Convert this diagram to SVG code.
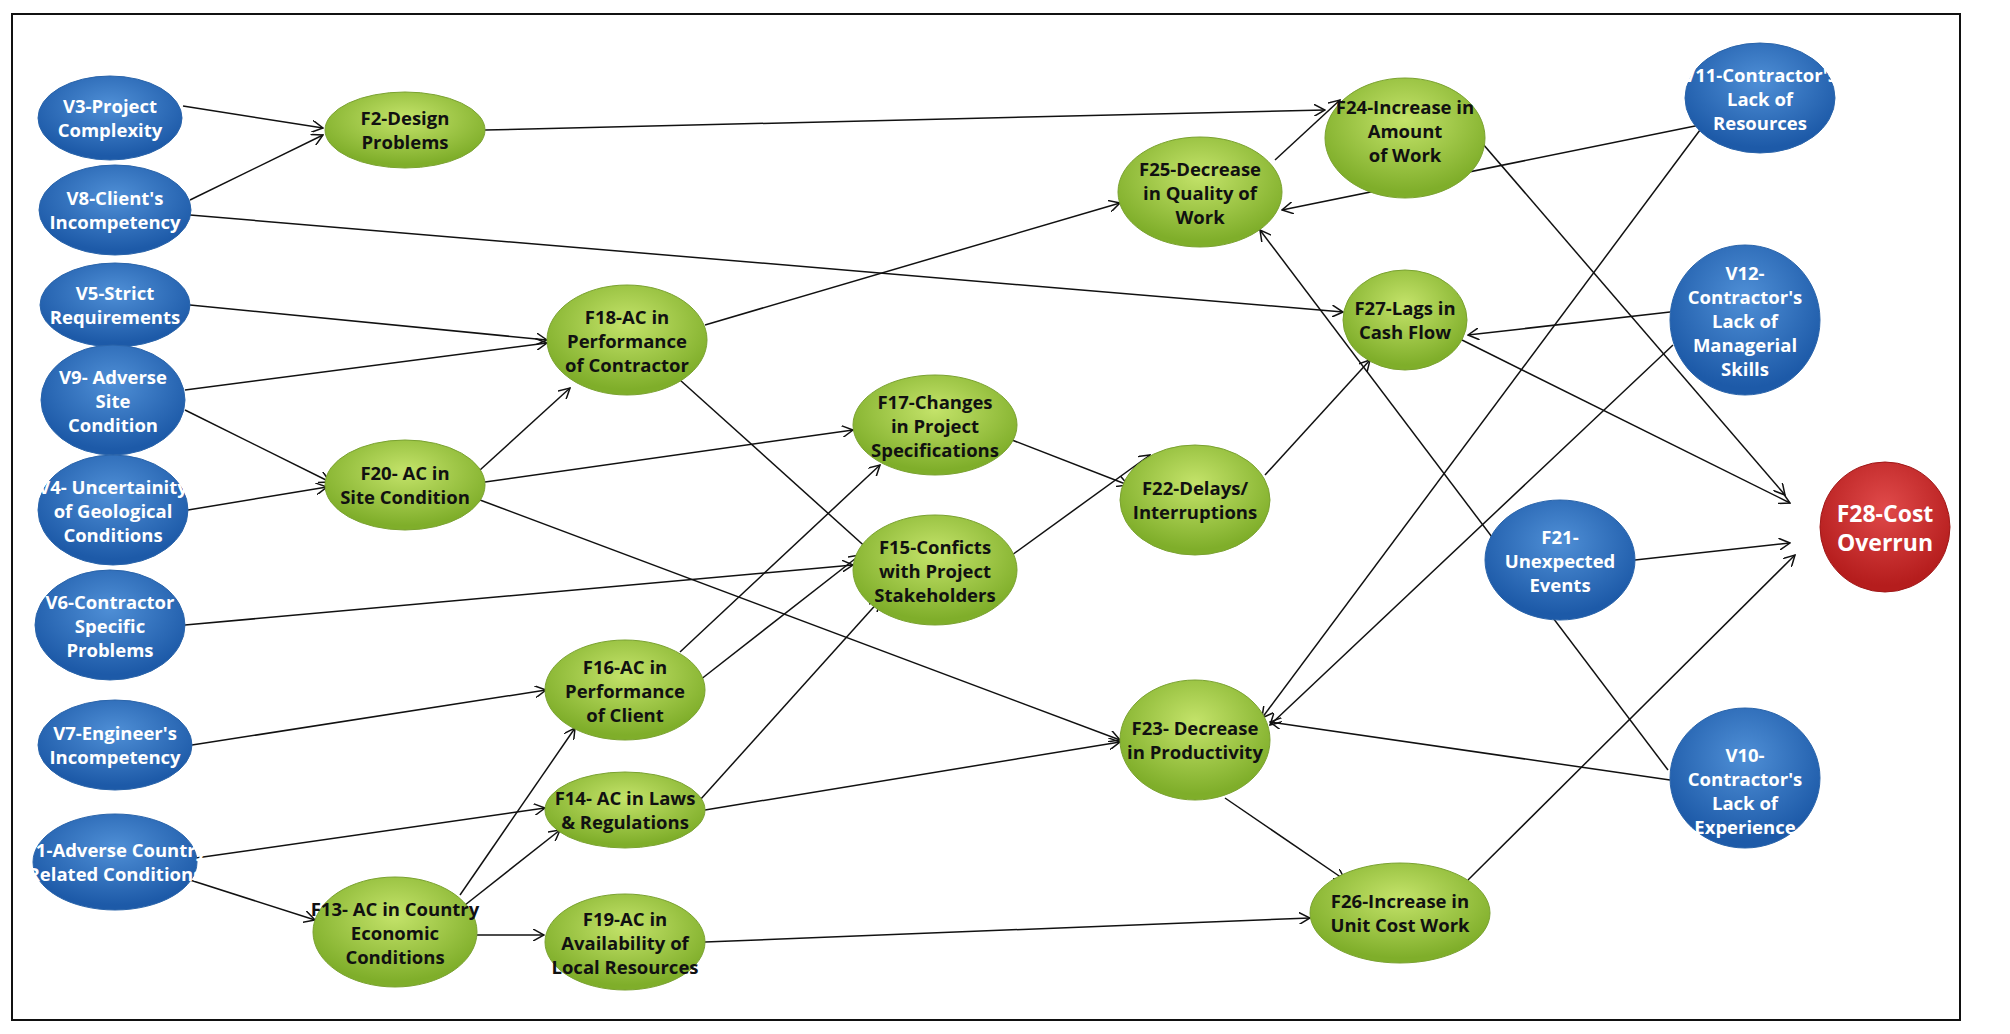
<svg xmlns="http://www.w3.org/2000/svg" width="2010" height="1034" viewBox="0 0 2010 1034">
<defs>
<radialGradient id="gb" cx="50%" cy="35%" r="60%"><stop offset="0" stop-color="#4f8fd6"/><stop offset="1" stop-color="#1d5aa8"/></radialGradient>
<radialGradient id="gg" cx="50%" cy="35%" r="60%"><stop offset="0" stop-color="#c4e36a"/><stop offset="1" stop-color="#7fae2a"/></radialGradient>
<radialGradient id="gr" cx="50%" cy="35%" r="60%"><stop offset="0" stop-color="#e04a4a"/><stop offset="1" stop-color="#b51d1d"/></radialGradient>
<marker id="a" viewBox="0 0 12 12" refX="11" refY="6" markerWidth="12" markerHeight="12" markerUnits="userSpaceOnUse" orient="auto"><path d="M0,0 L11,6 L0,12" fill="none" stroke="#111" stroke-width="1.5"/></marker>
<style>
.b{fill:url(#gb);stroke:#2a64aa;stroke-width:1}
.g{fill:url(#gg);stroke:#7aa230;stroke-width:1}
.r{fill:url(#gr);stroke:#a01818;stroke-width:1}
text{font-family:"Open Sans","Liberation Sans",sans-serif;font-weight:bold;font-size:18.5px;text-anchor:middle}
.w{fill:#fff}
.k{fill:#111}
#edges line{stroke:#111;stroke-width:1.5;marker-end:url(#a)}
</style>
</defs>
<rect x="0" y="0" width="2010" height="1034" fill="#fff"/>
<rect x="12" y="14" width="1948" height="1006" fill="none" stroke="#111" stroke-width="2"/>
<g id="edges">
<line x1="183" y1="106" x2="323" y2="128"/>
<line x1="190" y1="200" x2="323" y2="135"/>
<line x1="485" y1="130" x2="1325" y2="110"/>
<line x1="190" y1="215" x2="1343" y2="312"/>
<line x1="190" y1="305" x2="547" y2="340"/>
<line x1="185" y1="390" x2="547" y2="343"/>
<line x1="185" y1="410" x2="330" y2="482"/>
<line x1="188" y1="510" x2="327" y2="487"/>
<line x1="480" y1="470" x2="570" y2="388"/>
<line x1="705" y1="325" x2="1120" y2="203"/>
<line x1="680" y1="380" x2="880" y2="560"/>
<line x1="485" y1="482" x2="853" y2="430"/>
<line x1="480" y1="500" x2="1120" y2="740"/>
<line x1="185" y1="625" x2="853" y2="565"/>
<line x1="192" y1="745" x2="546" y2="690"/>
<line x1="680" y1="652" x2="880" y2="465"/>
<line x1="700" y1="680" x2="860" y2="555"/>
<line x1="700" y1="800" x2="880" y2="600"/>
<line x1="705" y1="810" x2="1120" y2="742"/>
<line x1="196" y1="858" x2="545" y2="808"/>
<line x1="190" y1="880" x2="315" y2="920"/>
<line x1="460" y1="895" x2="575" y2="728"/>
<line x1="465" y1="905" x2="560" y2="830"/>
<line x1="477" y1="935" x2="544" y2="935"/>
<line x1="705" y1="942" x2="1310" y2="918"/>
<line x1="1012" y1="440" x2="1128" y2="485"/>
<line x1="1012" y1="555" x2="1150" y2="455"/>
<line x1="1265" y1="475" x2="1370" y2="360"/>
<line x1="1275" y1="160" x2="1340" y2="100"/>
<line x1="1458" y1="115" x2="1785" y2="495"/>
<line x1="1462" y1="340" x2="1790" y2="503"/>
<line x1="1700" y1="125" x2="1282" y2="210"/>
<line x1="1700" y1="130" x2="1262" y2="718"/>
<line x1="1670" y1="312" x2="1468" y2="335"/>
<line x1="1673" y1="345" x2="1270" y2="725"/>
<line x1="1668" y1="770" x2="1260" y2="230"/>
<line x1="1670" y1="780" x2="1270" y2="722"/>
<line x1="1635" y1="560" x2="1790" y2="543"/>
<line x1="1225" y1="798" x2="1345" y2="880"/>
<line x1="1468" y1="880" x2="1795" y2="555"/>
</g>
<g id="V3"><ellipse class="b" cx="110" cy="118" rx="72" ry="42"/><text class="w" x="110" y="113">V3-Project</text><text class="w" x="110" y="137">Complexity</text></g>
<g id="V8"><ellipse class="b" cx="115" cy="210" rx="76" ry="45"/><text class="w" x="115" y="205">V8-Client's</text><text class="w" x="115" y="229">Incompetency</text></g>
<g id="V5"><ellipse class="b" cx="115" cy="305" rx="75" ry="42"/><text class="w" x="115" y="300">V5-Strict</text><text class="w" x="115" y="324">Requirements</text></g>
<g id="V9"><ellipse class="b" cx="113" cy="400" rx="72" ry="55"/><text class="w" x="113" y="384">V9- Adverse</text><text class="w" x="113" y="408">Site</text><text class="w" x="113" y="432">Condition</text></g>
<g id="V4"><ellipse class="b" cx="113" cy="510" rx="75" ry="55"/><text class="w" x="113" y="494">V4- Uncertainity</text><text class="w" x="113" y="518">of Geological</text><text class="w" x="113" y="542">Conditions</text></g>
<g id="V6"><ellipse class="b" cx="110" cy="625" rx="75" ry="55"/><text class="w" x="110" y="609">V6-Contractor</text><text class="w" x="110" y="633">Specific</text><text class="w" x="110" y="657">Problems</text></g>
<g id="V7"><ellipse class="b" cx="115" cy="745" rx="77" ry="45"/><text class="w" x="115" y="740">V7-Engineer's</text><text class="w" x="115" y="764">Incompetency</text></g>
<g id="V1"><ellipse class="b" cx="115" cy="862" rx="82" ry="48"/><text class="w" x="115" y="857">V1-Adverse Country</text><text class="w" x="115" y="881">Related Conditions</text></g>
<g id="F2"><ellipse class="g" cx="405" cy="130" rx="80" ry="38"/><text class="k" x="405" y="125">F2-Design</text><text class="k" x="405" y="149">Problems</text></g>
<g id="F18"><ellipse class="g" cx="627" cy="340" rx="80" ry="55"/><text class="k" x="627" y="324">F18-AC in</text><text class="k" x="627" y="348">Performance</text><text class="k" x="627" y="372">of Contractor</text></g>
<g id="F20"><ellipse class="g" cx="405" cy="485" rx="80" ry="45"/><text class="k" x="405" y="480">F20- AC in</text><text class="k" x="405" y="504">Site Condition</text></g>
<g id="F16"><ellipse class="g" cx="625" cy="690" rx="80" ry="50"/><text class="k" x="625" y="674">F16-AC in</text><text class="k" x="625" y="698">Performance</text><text class="k" x="625" y="722">of Client</text></g>
<g id="F14"><ellipse class="g" cx="625" cy="810" rx="80" ry="38"/><text class="k" x="625" y="805">F14- AC in Laws</text><text class="k" x="625" y="829">&amp; Regulations</text></g>
<g id="F13"><ellipse class="g" cx="395" cy="932" rx="82" ry="55"/><text class="k" x="395" y="916">F13- AC in Country</text><text class="k" x="395" y="940">Economic</text><text class="k" x="395" y="964">Conditions</text></g>
<g id="F19"><ellipse class="g" cx="625" cy="942" rx="80" ry="48"/><text class="k" x="625" y="926">F19-AC in</text><text class="k" x="625" y="950">Availability of</text><text class="k" x="625" y="974">Local Resources</text></g>
<g id="F17"><ellipse class="g" cx="935" cy="425" rx="82" ry="50"/><text class="k" x="935" y="409">F17-Changes</text><text class="k" x="935" y="433">in Project</text><text class="k" x="935" y="457">Specifications</text></g>
<g id="F15"><ellipse class="g" cx="935" cy="570" rx="82" ry="55"/><text class="k" x="935" y="554">F15-Conficts</text><text class="k" x="935" y="578">with Project</text><text class="k" x="935" y="602">Stakeholders</text></g>
<g id="F25"><ellipse class="g" cx="1200" cy="192" rx="82" ry="55"/><text class="k" x="1200" y="176">F25-Decrease</text><text class="k" x="1200" y="200">in Quality of</text><text class="k" x="1200" y="224">Work</text></g>
<g id="F24"><ellipse class="g" cx="1405" cy="138" rx="80" ry="60"/><text class="k" x="1405" y="114">F24-Increase in</text><text class="k" x="1405" y="138">Amount</text><text class="k" x="1405" y="162">of Work</text></g>
<g id="F27"><ellipse class="g" cx="1405" cy="320" rx="62" ry="50"/><text class="k" x="1405" y="315">F27-Lags in</text><text class="k" x="1405" y="339">Cash Flow</text></g>
<g id="F22"><ellipse class="g" cx="1195" cy="500" rx="75" ry="55"/><text class="k" x="1195" y="495">F22-Delays/</text><text class="k" x="1195" y="519">Interruptions</text></g>
<g id="F23"><ellipse class="g" cx="1195" cy="740" rx="75" ry="60"/><text class="k" x="1195" y="735">F23- Decrease</text><text class="k" x="1195" y="759">in Productivity</text></g>
<g id="F26"><ellipse class="g" cx="1400" cy="913" rx="90" ry="50"/><text class="k" x="1400" y="908">F26-Increase in</text><text class="k" x="1400" y="932">Unit Cost Work</text></g>
<g id="V11"><ellipse class="b" cx="1760" cy="98" rx="75" ry="55"/><text class="w" x="1760" y="82">V11-Contractor's</text><text class="w" x="1760" y="106">Lack of</text><text class="w" x="1760" y="130">Resources</text></g>
<g id="V12"><ellipse class="b" cx="1745" cy="320" rx="75" ry="75"/><text class="w" x="1745" y="280">V12-</text><text class="w" x="1745" y="304">Contractor's</text><text class="w" x="1745" y="328">Lack of</text><text class="w" x="1745" y="352">Managerial</text><text class="w" x="1745" y="376">Skills</text></g>
<g id="F21"><ellipse class="b" cx="1560" cy="560" rx="75" ry="60"/><text class="w" x="1560" y="544">F21-</text><text class="w" x="1560" y="568">Unexpected</text><text class="w" x="1560" y="592">Events</text></g>
<g id="V10"><ellipse class="b" cx="1745" cy="778" rx="75" ry="70"/><text class="w" x="1745" y="762">V10-</text><text class="w" x="1745" y="786">Contractor's</text><text class="w" x="1745" y="810">Lack of</text><text class="w" x="1745" y="834">Experience</text></g>
<g id="F28"><ellipse class="r" cx="1885" cy="527" rx="65" ry="65"/><text class="w" x="1885" y="522" style="font-size:23px">F28-Cost</text><text class="w" x="1885" y="551" style="font-size:23px">Overrun</text></g>
</svg>
